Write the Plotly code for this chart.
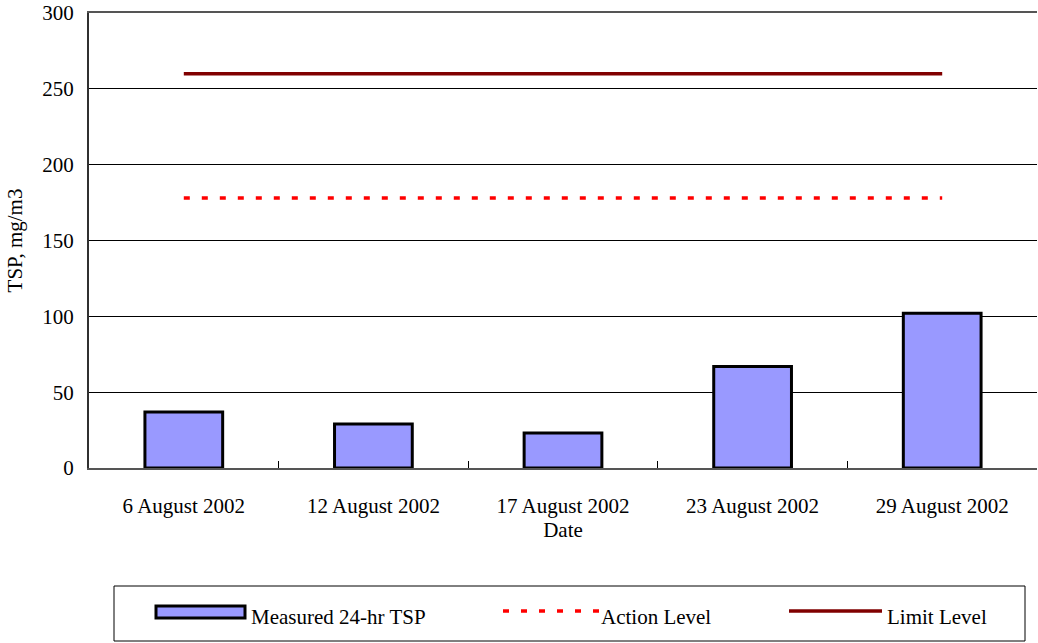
import plotly.graph_objects as go

# ---- data ----
dates = ["6 August 2002", "12 August 2002", "17 August 2002", "23 August 2002", "29 August 2002"]
tsp_measured = [37, 29, 23, 67, 102]
action_level = [178, 178, 178, 178, 178]
limit_level = [260, 260, 260, 260, 260]
y_ticks = [0, 50, 100, 150, 200, 250, 300]

FONT = "Liberation Serif, Times New Roman, serif"
W, H = 1038, 643
L, R, T, B = 89, 1037, 13, 468  # plot area in page pixels

def px(x):
    return (x - L) / (R - L)

def py(y):
    return (B - y) / (B - T)

fig = go.Figure()
fig.add_trace(go.Bar(
    x=dates, y=tsp_measured, name="Measured 24-hr TSP",
    marker=dict(color="#9999FF", line=dict(color="#000000", width=3)),
    showlegend=False,
))
fig.add_trace(go.Scatter(
    x=dates, y=action_level, name="Action Level", mode="lines",
    line=dict(color="#FF0000", width=3.5, dash="6px,12px"),
    showlegend=False,
))
fig.add_trace(go.Scatter(
    x=dates, y=limit_level, name="Limit Level", mode="lines",
    line=dict(color="#800000", width=3.5),
    showlegend=False,
))

# ---- manual legend (box, samples, labels) ----
shapes = [
    dict(type="rect", xref="paper", yref="paper",
         x0=px(114), x1=px(1025), y0=py(641), y1=py(586),
         line=dict(color="#000000", width=1), fillcolor="rgba(0,0,0,0)"),
    dict(type="rect", xref="paper", yref="paper",
         x0=px(156), x1=px(245), y0=py(618), y1=py(606),
         line=dict(color="#000000", width=3), fillcolor="#9999FF"),
    dict(type="line", xref="paper", yref="paper",
         x0=px(503), x1=px(599), y0=py(611), y1=py(611),
         line=dict(color="#FF0000", width=3.5, dash="6px,12px")),
    dict(type="line", xref="paper", yref="paper",
         x0=px(789), x1=px(882), y0=py(611), y1=py(611),
         line=dict(color="#800000", width=3.5)),
]
annotations = [
    dict(text="Measured 24-hr TSP", xref="paper", yref="paper", x=px(249), y=py(617),
         xanchor="left", yanchor="middle", showarrow=False,
         font=dict(family=FONT, size=21, color="#000000")),
    dict(text="Action Level", xref="paper", yref="paper", x=px(599), y=py(617),
         xanchor="left", yanchor="middle", showarrow=False,
         font=dict(family=FONT, size=21, color="#000000")),
    dict(text="Limit Level", xref="paper", yref="paper", x=px(885), y=py(617),
         xanchor="left", yanchor="middle", showarrow=False,
         font=dict(family=FONT, size=21, color="#000000")),
]

fig.update_layout(
    width=W, height=H,
    margin=dict(l=L, r=W - R, t=T, b=H - B, pad=0),
    paper_bgcolor="#FFFFFF", plot_bgcolor="#FFFFFF",
    font=dict(family=FONT, size=21, color="#000000"),
    bargap=0.59,
    showlegend=False,
    shapes=shapes,
    annotations=annotations,
)
fig.update_xaxes(
    type="category",
    title=dict(text="Date", font=dict(family=FONT, size=21), standoff=3),
    showline=True, linecolor="#555555", linewidth=2, mirror=True,
    ticks="inside", tickson="boundaries", ticklen=7, tickcolor="#000000", tickwidth=1,
    ticklabelstandoff=18,
    showgrid=False, zeroline=False,
    tickfont=dict(family=FONT, size=21),
)
fig.update_yaxes(
    range=[0, 300], tickvals=y_ticks,
    title=dict(text="TSP, mg/m3", font=dict(family=FONT, size=21), standoff=14),
    showline=True, linecolor="#303030", linewidth=2,
    ticks="inside", ticklen=6, tickcolor="#000000", tickwidth=1,
    ticklabelstandoff=9,
    showgrid=True, gridcolor="#000000", gridwidth=1,
    zeroline=False,
    tickfont=dict(family=FONT, size=21),
)

fig.write_html(
    "out.html",
    config={"displayModeBar": False},
    post_script="document.body.style.margin='0px';document.body.style.overflow='hidden';",
)
